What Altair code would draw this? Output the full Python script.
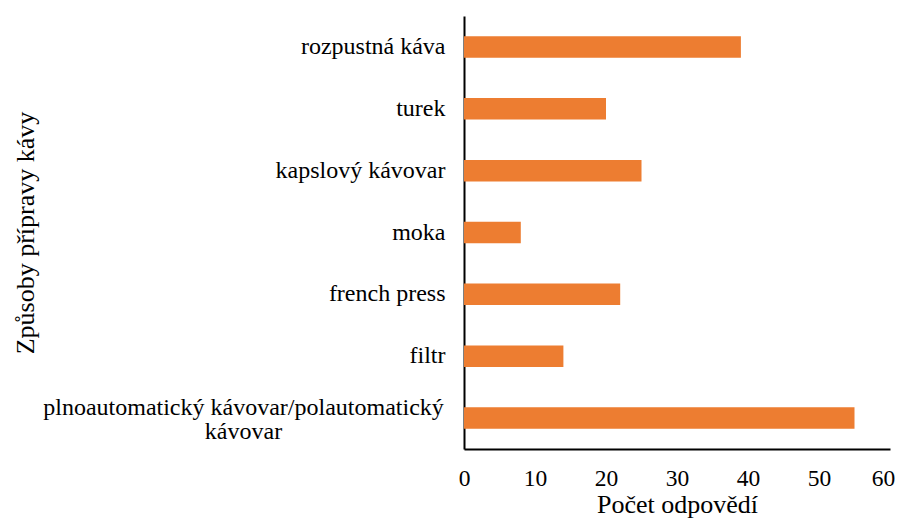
import altair as alt
import pandas as pd

categories = [
    "rozpustná káva",
    "turek",
    "kapslový kávovar",
    "moka",
    "french press",
    "filtr",
    "plnoautomatický kávovar/polautomatický\nkávovar",
]
counts = [39, 20, 25, 8, 22, 14, 55]
x_ticks = [0, 10, 20, 30, 40, 50, 60]

df = pd.DataFrame({"kategorie": categories, "pocet": counts})

FONT = "'Liberation Serif', 'Times New Roman', 'DejaVu Serif', serif"
MULTI = "indexof(datum.value, '\\n') >= 0"

chart = alt.Chart(df).mark_bar(color="#ED7D31").encode(
    x=alt.X(
        "pocet:Q",
        scale=alt.Scale(domain=[0, 60], nice=False),
        axis=alt.Axis(
            values=x_ticks,
            title="Počet odpovědí",
            grid=False,
            ticks=False,
            domainColor="black",
            domainWidth=2,
            labelFont=FONT,
            labelFontSize=23.5,
            labelColor="black",
            labelPadding=17,
            labelFlush=False,
            labelOffset={"condition": {"test": "datum.value >= 60", "value": -7}, "value": 0},
            titleFont=FONT,
            titleFontSize=26,
            titleFontWeight="normal",
            titleColor="black",
            titleBaseline="alphabetic",
            titleY=63,
        ),
    ),
    y=alt.Y(
        "kategorie:N",
        sort=categories,
        scale=alt.Scale(paddingInner=0.653, paddingOuter=0.3265),
        axis=alt.Axis(
            title="Způsoby přípravy kávy",
            grid=False,
            ticks=False,
            domainColor="black",
            domainWidth=2,
            labelFont=FONT,
            labelFontSize=24,
            labelColor="black",
            labelLimit=0,
            labelLineHeight=24,
            labelExpr="split(datum.label, '\\n')",
            labelAlign={"condition": {"test": MULTI, "value": "center"}, "value": "right"},
            labelPadding={"condition": {"test": MULTI, "value": 221}, "value": 19},
            labelOffset={"condition": {"test": MULTI, "value": -10}, "value": 0},
            titleFont=FONT,
            titleFontSize=26,
            titleFontWeight="normal",
            titleColor="black",
            titleBaseline="alphabetic",
            titleX=-431,
        ),
    ),
).properties(
    width=426,
    height=433,
    autosize=alt.AutoSizeParams(type="none"),
    padding={"left": 456, "top": 8, "right": 5, "bottom": 70},
).configure(background="white", font=FONT).configure_view(stroke=None)

chart.save("out.html", embed_options={"renderer": "svg", "actions": False})
